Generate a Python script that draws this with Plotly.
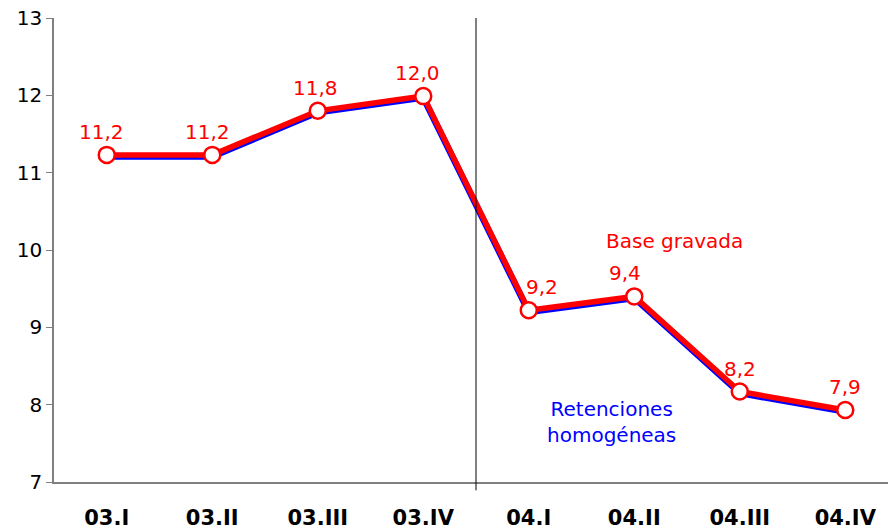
import plotly.graph_objects as go

categories = ["03.I", "03.II", "03.III", "03.IV", "04.I", "04.II", "04.III", "04.IV"]
base_gravada = [11.23, 11.23, 11.80, 11.99, 9.22, 9.40, 8.17, 7.93]
retenciones = [11.21, 11.21, 11.78, 11.97, 9.20, 9.38, 8.15, 7.91]
labels = ["11,2", "11,2", "11,8", "12,0", "9,2", "9,4", "8,2", "7,9"]
y_ticks = [7, 8, 9, 10, 11, 12, 13]

FONT = "DejaVu Sans"
x_idx = list(range(len(categories)))
label_xshift = [-5, -5, -2, -6, 13, -9, 0, 0]

fig = go.Figure()
fig.add_trace(go.Scatter(
    x=x_idx, y=retenciones, mode="lines",
    line=dict(color="#0000FF", width=6.5), hoverinfo="skip", showlegend=False))
fig.add_trace(go.Scatter(
    x=x_idx, y=base_gravada, mode="lines+markers",
    line=dict(color="#FF0000", width=5.5),
    marker=dict(size=16, color="white", line=dict(color="#FF0000", width=2.5)),
    showlegend=False))

for xi, yv, lab, dx in zip(x_idx, base_gravada, labels, label_xshift):
    fig.add_annotation(x=xi, y=yv, xref="x", yref="y", text=lab, showarrow=False,
                       yshift=23, xshift=dx,
                       font=dict(family=FONT, size=20, color="#FF0000"))

fig.add_shape(type="line", xref="x", yref="paper", x0=3.5, x1=3.5, y0=-0.018, y1=1,
              line=dict(color="black", width=1))

fig.add_annotation(x=5.386, y=10.116, xref="x", yref="y", text="Base gravada", showarrow=False,
                   font=dict(family=FONT, size=20, color="#FF0000"))
fig.add_annotation(x=4.78, y=7.776, xref="x", yref="y", text="Retenciones<br>homogéneas",
                   showarrow=False, font=dict(family=FONT, size=20, color="#0000FF"))

fig.update_layout(
    width=888, height=526,
    margin=dict(l=54, r=0, t=18, b=44, autoexpand=False),
    paper_bgcolor="white", plot_bgcolor="white",
    xaxis=dict(range=[-0.5, 7.405], tickmode="array", tickvals=x_idx,
               ticktext=["<b>%s</b>" % c for c in categories],
               tickfont=dict(family=FONT, size=21, color="black"),
               showgrid=False, zeroline=False, showline=True, linecolor="#808080",
               linewidth=1.5, ticks="", ticklabelstandoff=16, automargin=False),
    yaxis=dict(range=[7, 13], tickmode="array", tickvals=y_ticks,
               tickfont=dict(family=FONT, size=20, color="black"),
               showgrid=False, zeroline=False, showline=True, linecolor="#808080",
               linewidth=1.5, ticks="outside", ticklen=6, tickcolor="#808080",
               automargin=False),
)

fig.write_html("out.html", config={"displayModeBar": False},
               post_script="document.body.style.margin='0';document.body.style.overflow='hidden';")
